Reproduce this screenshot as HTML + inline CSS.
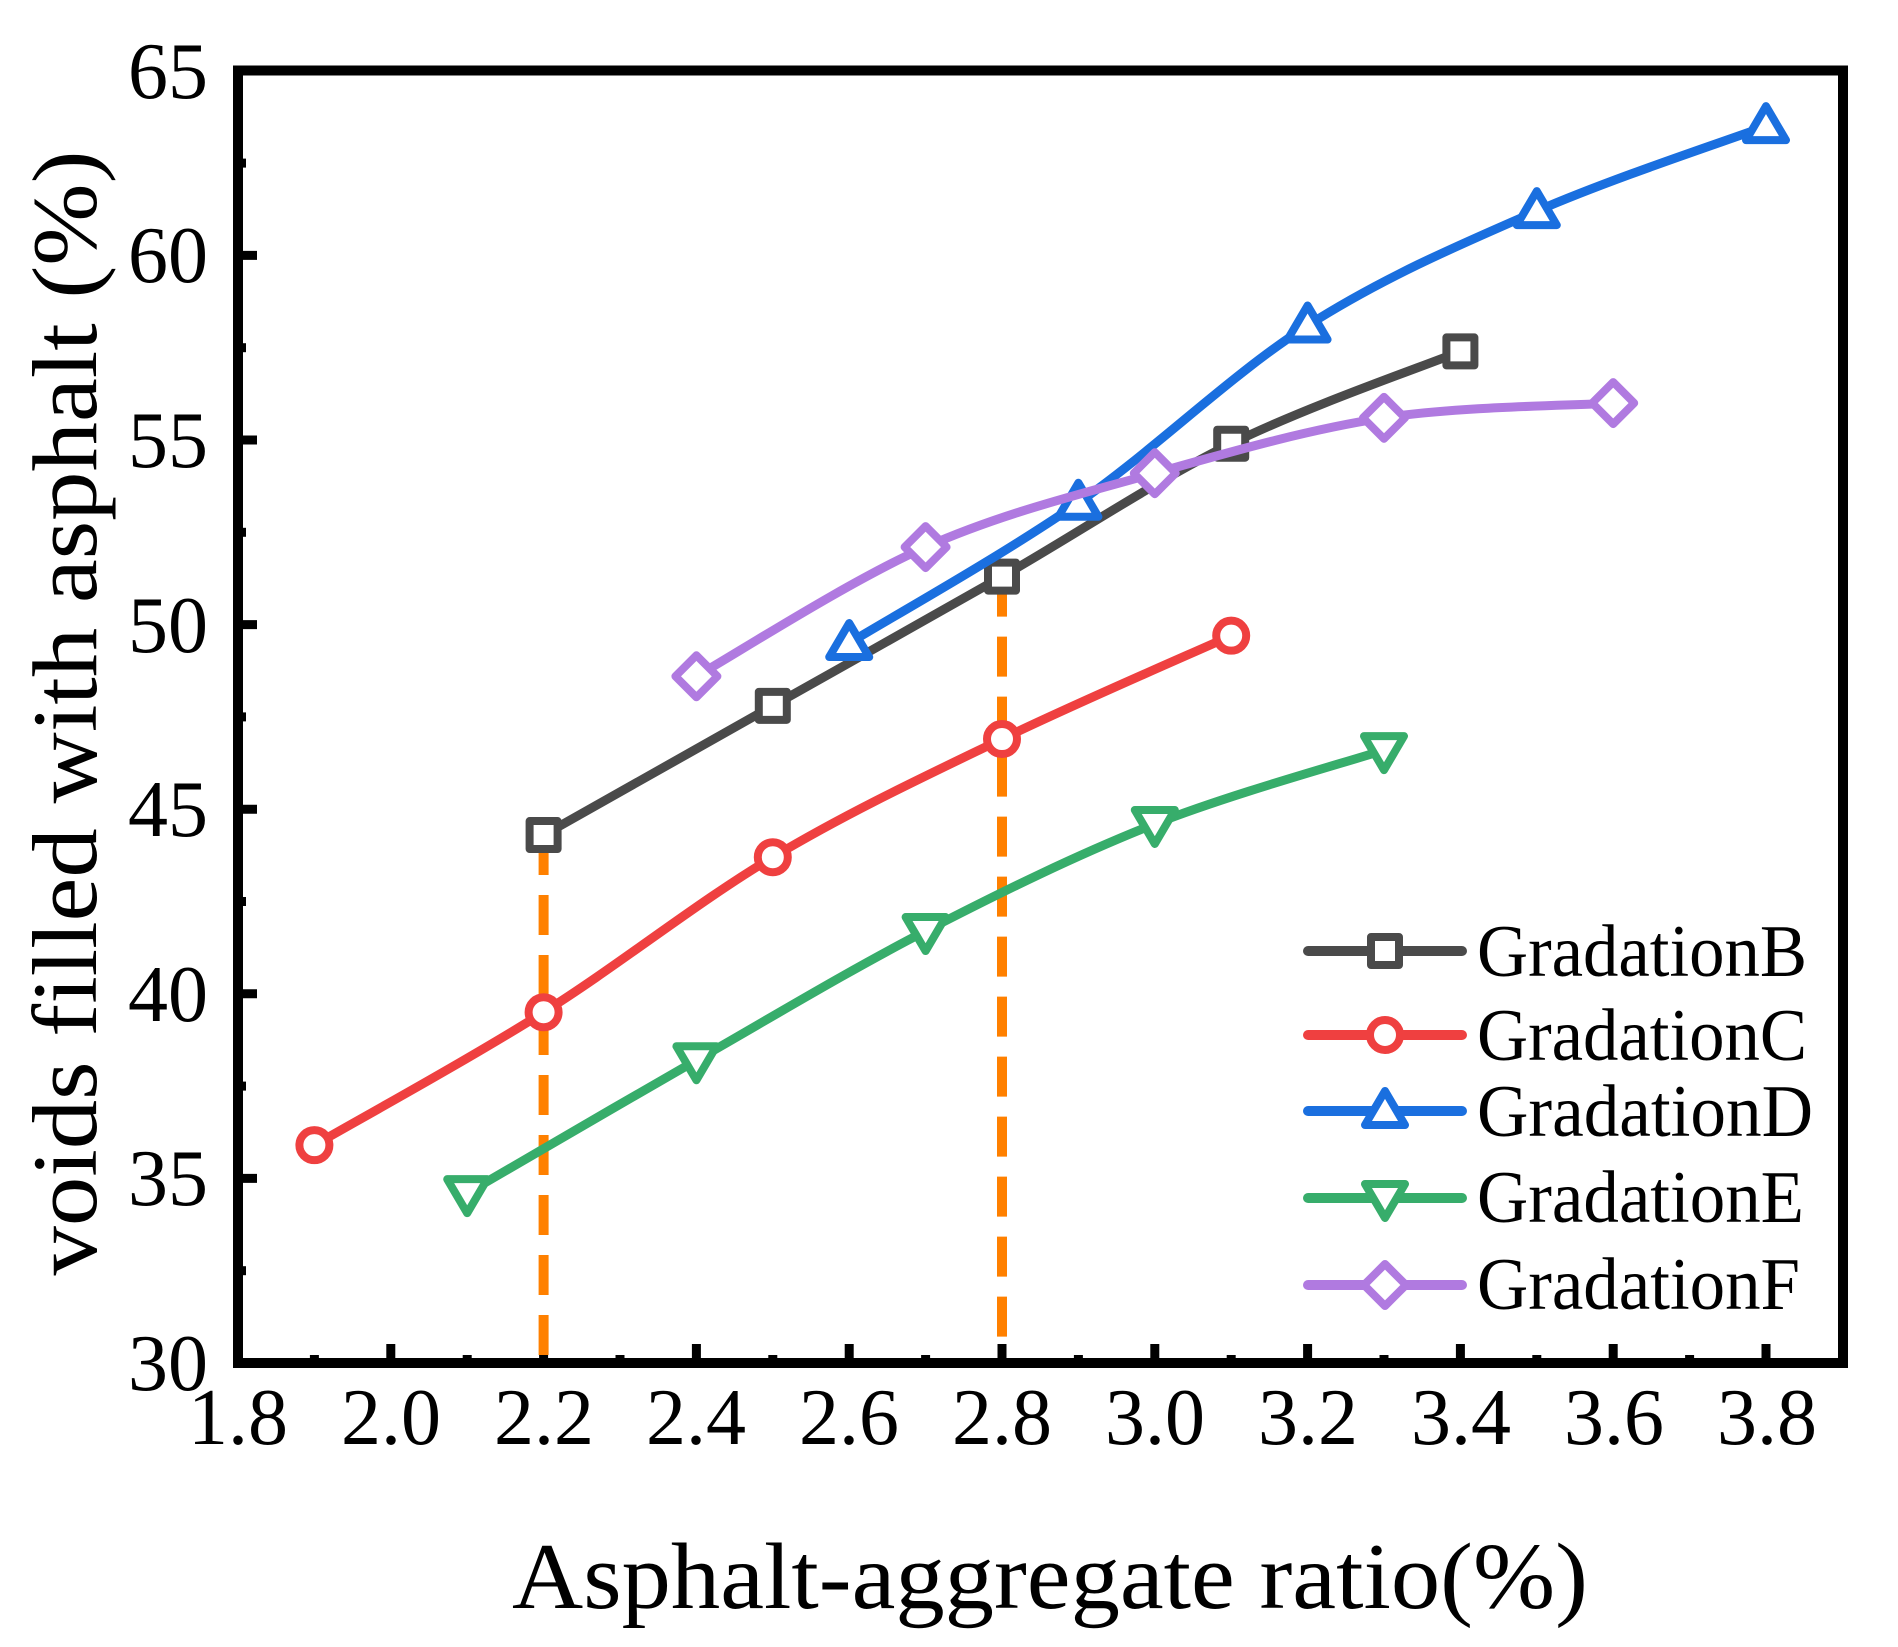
<!DOCTYPE html>
<html><head><meta charset="utf-8"><style>
html,body{margin:0;padding:0;background:#fff;}
svg{display:block;}
text{font-family:"Liberation Serif",serif;fill:#000;}
</style></head><body>
<svg id="s" width="1898" height="1647" viewBox="0 0 1898 1647" xmlns="http://www.w3.org/2000/svg">
<rect width="1898" height="1647" fill="#fff"/>
<g id="plot"></g>
<rect x="238" y="70.5" width="1605" height="1292.5" fill="none" stroke="#000" stroke-width="10"/>
<g font-size="80" text-anchor="middle">
<text x="238" y="1444">1.8</text><text x="391" y="1444">2.0</text><text x="544" y="1444">2.2</text>
<text x="696" y="1444">2.4</text><text x="849" y="1444">2.6</text><text x="1002" y="1444">2.8</text>
<text x="1155" y="1444">3.0</text><text x="1308" y="1444">3.2</text><text x="1461" y="1444">3.4</text>
<text x="1614" y="1444">3.6</text><text x="1767" y="1444">3.8</text>
</g>
<g font-size="80" text-anchor="end">
<text x="208" y="98">65</text><text x="208" y="282">60</text><text x="208" y="467">55</text>
<text x="208" y="652">50</text><text x="208" y="836">45</text><text x="208" y="1021">40</text>
<text x="208" y="1205">35</text><text x="208" y="1390">30</text>
</g>
<text x="512" y="1608" font-size="94" textLength="1076" lengthAdjust="spacingAndGlyphs">Asphalt-aggregate ratio(%)</text>
<text transform="translate(96,713) rotate(-90)" font-size="92" text-anchor="middle" textLength="1125" lengthAdjust="spacingAndGlyphs">voids filled with asphalt (%)</text>
<g font-size="74">
<text x="1477" y="976" textLength="330" lengthAdjust="spacingAndGlyphs">GradationB</text>
<text x="1477" y="1060" textLength="330" lengthAdjust="spacingAndGlyphs">GradationC</text>
<text x="1477" y="1136" textLength="336" lengthAdjust="spacingAndGlyphs">GradationD</text>
<text x="1477" y="1222" textLength="327" lengthAdjust="spacingAndGlyphs">GradationE</text>
<text x="1477" y="1309" textLength="323" lengthAdjust="spacingAndGlyphs">GradationF</text>
</g>
</svg>
<script>
var NS="http://www.w3.org/2000/svg",g=document.getElementById("plot");
function X(v){return 238+(v-1.8)*764;}
function Y(v){return 1363-(v-30)*36.92;}
function el(t,a){var e=document.createElementNS(NS,t);for(var k in a)e.setAttribute(k,a[k]);g.appendChild(e);return e;}
for(var i=0;i<=20;i++){var v=1.8+i*0.1,L=(i%2==0)?19:8;el("line",{x1:X(v),x2:X(v),y1:1363,y2:1363-L,stroke:"#000","stroke-width":9});}
for(var i=0;i<=14;i++){var v=30+i*2.5,L=(i%2==0)?19:8;el("line",{x1:238,x2:238+L,y1:Y(v),y2:Y(v),stroke:"#000","stroke-width":9});}
el("line",{x1:X(2.2),x2:X(2.2),y1:Y(44.3),y2:1356,stroke:"#ff8000","stroke-width":10,"stroke-dasharray":"40 20"});
el("line",{x1:X(2.8),x2:X(2.8),y1:Y(51.3),y2:1356,stroke:"#ff8000","stroke-width":10,"stroke-dasharray":"40 20"});
var S=[
{c:"#4a4a4a",m:"sq",d:[[2.2,44.3],[2.5,47.8],[2.8,51.3],[3.1,54.9],[3.4,57.4]]},
{c:"#ef4040",m:"ci",d:[[1.9,35.9],[2.2,39.5],[2.5,43.7],[2.8,46.9],[3.1,49.7]]},
{c:"#1a6fdf",m:"tu",d:[[2.6,49.5],[2.9,53.3],[3.2,58.1],[3.5,61.2],[3.8,63.5]]},
{c:"#37ad6b",m:"td",d:[[2.1,34.6],[2.4,38.2],[2.7,41.7],[3.0,44.6],[3.3,46.6]]},
{c:"#b07ae0",m:"di",d:[[2.4,48.6],[2.7,52.1],[3.0,54.1],[3.3,55.6],[3.6,56.0]]}];
function marker(m,x,y,c){
 var a={fill:"#fff",stroke:c,"stroke-width":8,"stroke-linejoin":"round"};
 if(m=="sq"){a.x=x-14;a.y=y-14;a.width=28;a.height=28;el("rect",a);}
 else if(m=="ci"){a.cx=x;a.cy=y;a.r=15;el("circle",a);}
 else if(m=="tu"){a.points=(x)+","+(y-20)+" "+(x+20)+","+(y+14)+" "+(x-20)+","+(y+14);el("polygon",a);}
 else if(m=="td"){a.points=(x)+","+(y+20)+" "+(x+20)+","+(y-14)+" "+(x-20)+","+(y-14);el("polygon",a);}
 else {a.points=x+","+(y-21)+" "+(x+21)+","+y+" "+x+","+(y+21)+" "+(x-21)+","+y;el("polygon",a);}
}
S.forEach(function(s){
 var p=s.d.map(function(q){return [X(q[0]),Y(q[1])];});
 var d="M"+p[0][0]+","+p[0][1];
 for(var i=0;i<p.length-1;i++){
  var p0=p[i-1]||p[i],p1=p[i],p2=p[i+1],p3=p[i+2]||p2;
  var c1=[p1[0]+(p2[0]-p0[0])/6,p1[1]+(p2[1]-p0[1])/6],c2=[p2[0]-(p3[0]-p1[0])/6,p2[1]-(p3[1]-p1[1])/6];
  d+=" C"+c1+" "+c2+" "+p2;
 }
 el("path",{d:d,fill:"none",stroke:s.c,"stroke-width":9,"stroke-linecap":"round"});
 p.forEach(function(q){marker(s.m,q[0],q[1],s.c);});
});
var ly=[951,1035,1111,1198,1285];
S.forEach(function(s,i){
 el("line",{x1:1308,x2:1462,y1:ly[i],y2:ly[i],stroke:s.c,"stroke-width":10,"stroke-linecap":"round"});
 marker(s.m,1385,ly[i],s.c);
});
</script>
</body></html>
